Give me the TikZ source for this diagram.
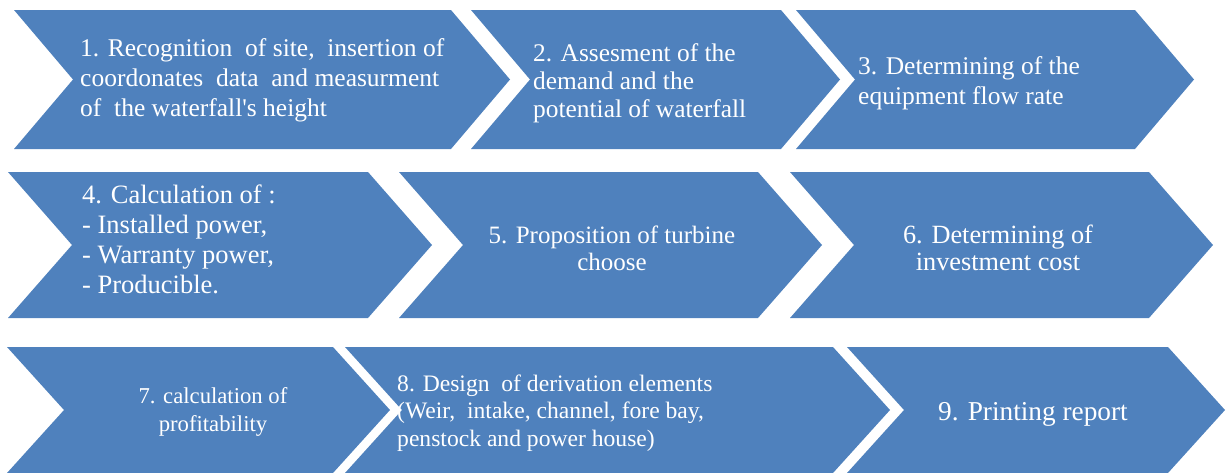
\documentclass[tikz,border=0pt]{standalone}
\usepackage{fontspec}
\setmainfont{Liberation Serif}
\definecolor{chevblue}{RGB}{79,129,189}
\tikzset{
  chevron/.style={fill=chevblue, draw=none},
  steptext/.style={text=white, inner sep=0pt, font=#1},
  lefttext/.style={steptext=#1, anchor=west, align=left},
  midtext/.style={steptext=#1, anchor=center, align=center},
}
% \chevshape{left}{notch/tip depth}{top-right}{top}{bottom}
\newcommand{\chevshape}[5]{%
  \fill[chevron] (#1,#4) -- (#3,#4) -- ({#3+#2},{(#4+#5)/2}) -- (#3,#5) -- (#1,#5)
    -- ({#1+#2},{(#4+#5)/2}) -- cycle;}
\begin{document}
\begin{tikzpicture}[x=1pt,y=-1pt]
\useasboundingbox (0,0) rectangle (1232,472);
% row 1
\chevshape{14}{59}{451}{10}{149}
\chevshape{471}{59}{781}{10}{149}
\chevshape{796}{59}{1135}{10}{149}
% row 2
\chevshape{8}{64}{368}{172}{318}
\chevshape{399}{64}{758}{172}{318}
\chevshape{790}{64}{1149}{172}{318}
% row 3
\chevshape{7}{57}{333}{347}{473}
\chevshape{345}{57}{833}{347}{473}
\chevshape{847}{57}{1168}{347}{473}

\node[lefttext={\fontsize{25.5}{30}\selectfont}] (s1) at (80,80)
  {1. Recognition\ \ of site,\ \ insertion of\\coordonates\ \ data\ \ and measurment\\of\ \ the waterfall\textquotesingle s height};
\node[lefttext={\fontsize{25.4}{28}\selectfont}] (s2) at (533,83)
  {2. Assesment of the\\demand and the\\potential of waterfall};
\node[lefttext={\fontsize{25.5}{30}\selectfont}] (s3) at (858,83)
  {3. Determining of the\\equipment flow rate};
\node[lefttext={\fontsize{26.5}{30}\selectfont}] (s4) at (82,239)
  {4. Calculation of :\\- Installed power,\\- Warranty power,\\- Producible.};
\node[midtext={\fontsize{25}{27}\selectfont}] (s5) at (612,248)
  {5. Proposition of turbine\\choose};
\node[midtext={\fontsize{26.3}{27}\selectfont}] (s6) at (998,248)
  {6. Determining of\\investment cost};
\node[midtext={\fontsize{22.7}{28}\selectfont}] (s7) at (213,412)
  {7. calculation of\\profitability};
\node[lefttext={\fontsize{23.6}{27.5}\selectfont}] (s8) at (397,413)
  {8. Design\ \ of derivation elements\\(Weir,\ \ intake, channel, fore bay,\\penstock and power house)};
\node[midtext={\fontsize{27.3}{30}\selectfont}] (s9) at (1033,414)
  {9. Printing report};
\end{tikzpicture}
\end{document}
